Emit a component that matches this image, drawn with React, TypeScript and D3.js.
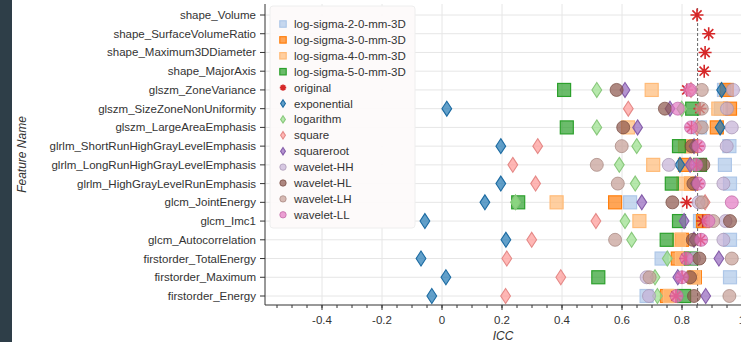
import { useEffect } from "react";
import * as d3 from "d3";

// features, top to bottom
const features = [
  "shape_Volume",
  "shape_SurfaceVolumeRatio",
  "shape_Maximum3DDiameter",
  "shape_MajorAxis",
  "glszm_ZoneVariance",
  "glszm_SizeZoneNonUniformity",
  "glszm_LargeAreaEmphasis",
  "glrlm_ShortRunHighGrayLevelEmphasis",
  "glrlm_LongRunHighGrayLevelEmphasis",
  "glrlm_HighGrayLevelRunEmphasis",
  "glcm_JointEnergy",
  "glcm_Imc1",
  "glcm_Autocorrelation",
  "firstorder_TotalEnergy",
  "firstorder_Maximum",
  "firstorder_Energy",
];

// shape features only have the original image
const none4 = [null, null, null, null];

const logSigma2 = [...none4, 0.94, 0.93, 0.86, 0.958, 0.943, 0.96, 0.627, 0.86, 0.96, 0.732, 0.96, 0.682];
const logSigma3 = [...none4, 0.949, 0.96, 0.916, 0.83, 0.81, 0.83, 0.577, 0.87, 0.8, 0.786, 0.843, 0.75];
const logSigma4 = [...none4, 0.699, 0.921, 0.62, 0.81, 0.704, 0.804, 0.382, 0.658, 0.79, 0.8, 0.84, 0.76];
const logSigma5 = [...none4, 0.407, 0.834, 0.416, 0.79, 0.86, 0.766, 0.254, 0.79, 0.749, 0.83, 0.521, 0.807];
const original = [0.85, 0.889, 0.877, 0.874, 0.816, 0.86, 0.832, 0.852, 0.848, 0.852, 0.816, 0.869, 0.862, 0.813, 0.8, 0.78];
const exponential = [...none4, 0.932, 0.016, 0.927, 0.196, 0.793, 0.196, 0.143, -0.057, 0.213, -0.07, 0.013, -0.034];
const logarithm = [...none4, 0.516, 0.799, 0.516, 0.649, 0.591, 0.644, 0.245, 0.61, 0.632, 0.751, 0.71, 0.718];
const square = [...none4, 0.83, 0.621, 0.85, 0.319, 0.236, 0.312, 0.877, 0.513, 0.299, 0.216, 0.396, 0.212];
const squareroot = [...none4, 0.61, 0.76, 0.652, 0.84, 0.827, 0.845, 0.666, 0.807, 0.84, 0.923, 0.786, 0.879];
const waveletHH = [...none4, 0.97, 0.95, 0.966, 0.949, 0.756, 0.938, 0.855, 0.945, 0.938, 0.84, 0.682, 0.69];
const waveletHL = [...none4, 0.582, 0.743, 0.604, 0.832, 0.871, 0.838, 0.768, 0.96, 0.836, 0.858, 0.827, 0.84];
const waveletLH = [...none4, 0.866, 0.866, 0.866, 0.599, 0.516, 0.586, 0.866, 0.904, 0.577, 0.966, 0.692, 0.958];
const waveletLL = [...none4, 0.827, 0.786, 0.83, 0.856, 0.847, 0.856, 0.966, 0.888, 0.864, 0.815, 0.8, 0.782];

const meanIcc = 0.852;
const xTicks = [-0.4, -0.2, 0, 0.2, 0.4, 0.6, 0.8, 1];

type Shape = "square" | "star" | "diamond" | "circle";
const series: { name: string; values: (number | null)[]; color: string; shape: Shape }[] = [
  { name: "log-sigma-2-0-mm-3D", values: logSigma2, color: "#aec7e8", shape: "square" },
  { name: "log-sigma-3-0-mm-3D", values: logSigma3, color: "#ff7f0e", shape: "square" },
  { name: "log-sigma-4-0-mm-3D", values: logSigma4, color: "#ffbb78", shape: "square" },
  { name: "log-sigma-5-0-mm-3D", values: logSigma5, color: "#2ca02c", shape: "square" },
  { name: "original", values: original, color: "#d62728", shape: "star" },
  { name: "exponential", values: exponential, color: "#1f77b4", shape: "diamond" },
  { name: "logarithm", values: logarithm, color: "#98df8a", shape: "diamond" },
  { name: "square", values: square, color: "#ff9896", shape: "diamond" },
  { name: "squareroot", values: squareroot, color: "#9467bd", shape: "diamond" },
  { name: "wavelet-HH", values: waveletHH, color: "#c5b0d5", shape: "circle" },
  { name: "wavelet-HL", values: waveletHL, color: "#8c564b", shape: "circle" },
  { name: "wavelet-LH", values: waveletLH, color: "#c49c94", shape: "circle" },
  { name: "wavelet-LL", values: waveletLL, color: "#e377c2", shape: "circle" },
];

const W = 741;
const H = 342;
const left = 265;
const top = 4;
const bottom = 305;
const font = "'Liberation Sans', Arial, sans-serif";

function Marker({ shape, color, s }: { shape: Shape; color: string; s: number }) {
  if (shape === "square")
    return <rect x={-s} y={-s} width={2 * s} height={2 * s} fill={color} fillOpacity={0.7} stroke={color} strokeWidth={1.2} />;
  if (shape === "circle")
    return <circle r={s} fill={color} fillOpacity={0.7} stroke={d3.color(color)!.darker(0.5).formatHex()} strokeOpacity={0.7} strokeWidth={1} />;
  if (shape === "diamond") {
    const w = s * 0.75;
    const h = s * 1.15;
    return <path d={`M0,${-h}L${w},0L0,${h}L${-w},0Z`} fill={color} fillOpacity={0.7} stroke={d3.color(color)!.darker(0.3).formatHex()} strokeWidth={1.1} />;
  }
  // asterisk with eight spokes
  const d = d3.range(4).map((i) => {
    const a = (i * Math.PI) / 4;
    const dx = s * Math.cos(a);
    const dy = s * Math.sin(a);
    return `M${-dx},${-dy}L${dx},${dy}`;
  }).join("");
  return <path d={d} stroke={color} strokeWidth={1.6} fill="none" />;
}

export default function App() {
  useEffect(() => {
    document.body.style.margin = "0";
  }, []);

  const x = d3.scaleLinear().domain([-0.59, 1.0]).range([left, W + 1]);
  const y = d3.scalePoint<string>().domain(features).range([15, 296]);
  const minor = d3.range(-0.55, 1.001, 0.05).filter((v) => x(v) >= left && x(v) <= W);

  return (
    <svg width={W} height={H} style={{ display: "block", fontFamily: font }}>
      <rect width={W} height={H} fill="#fff" />
      <rect x={0} y={0} width={12} height={H} fill="#2e3e48" />

      {/* grid */}
      {xTicks.map((t) => (
        <line key={t} x1={x(t)} x2={x(t)} y1={top} y2={bottom} stroke="#e6e6e6" strokeWidth={1} />
      ))}
      {features.map((f) => (
        <line key={f} x1={left} x2={W} y1={y(f)} y2={y(f)} stroke="#e6e6e6" strokeWidth={1} />
      ))}

      {/* mean line */}
      <line x1={x(meanIcc)} x2={x(meanIcc)} y1={8} y2={bottom} stroke="#666" strokeDasharray="3,2" strokeWidth={1} />

      {/* points */}
      {series.map((sr) => (
        <g key={sr.name}>
          {sr.values.map((v, i) =>
            v == null ? null : (
              <g key={i} transform={`translate(${x(v)},${y(features[i])})`}>
                <Marker shape={sr.shape} color={sr.color} s={6.5} />
              </g>
            )
          )}
        </g>
      ))}

      {/* axes */}
      <line x1={left} x2={left} y1={top} y2={bottom} stroke="#333" />
      <line x1={left} x2={W} y1={bottom} y2={bottom} stroke="#333" />
      {features.map((f) => (
        <g key={f} transform={`translate(${left},${y(f)})`}>
          <line x1={-5} x2={0} stroke="#333" />
          <text x={-9} dy="0.35em" textAnchor="end" fontSize={11.5} fill="#333">{f}</text>
        </g>
      ))}
      {minor.map((v) => (
        <line key={v} x1={x(v)} x2={x(v)} y1={bottom} y2={bottom + 3} stroke="#333" />
      ))}
      {xTicks.map((t) => (
        <g key={t} transform={`translate(${x(t)},${bottom})`}>
          <line y1={0} y2={5} stroke="#333" />
          <text y={19} textAnchor="middle" fontSize={11.5} fill="#333">{String(t)}</text>
        </g>
      ))}
      <text x={(left + W) / 2} y={340} textAnchor="middle" fontSize={12} fontStyle="italic" fill="#333">ICC</text>
      <text transform={`translate(26,${(top + bottom) / 2}) rotate(-90)`} textAnchor="middle" fontSize={12} fontStyle="italic" fill="#333">Feature Name</text>

      {/* legend */}
      <rect x={270} y={6} width={145} height={222} rx={3} fill="#fdfafa" fillOpacity={0.95} stroke="#eee" />
      {series.map((sr, i) => (
        <g key={sr.name} transform={`translate(0,${24 + i * 15.9})`}>
          <g transform="translate(283,0)">
            <Marker shape={sr.shape} color={sr.color} s={3.2} />
          </g>
          <text x={294} dy="0.35em" fontSize={11.5} fill="#333">{sr.name}</text>
        </g>
      ))}
    </svg>
  );
}
